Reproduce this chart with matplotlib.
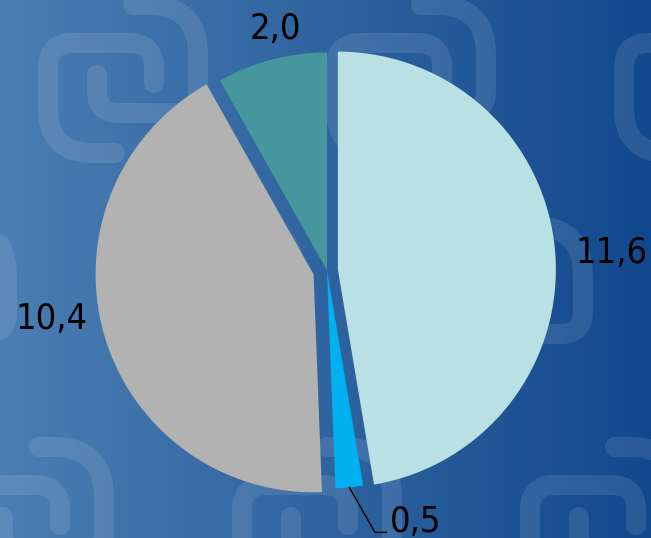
import numpy as np
import matplotlib
matplotlib.use("Agg")
import matplotlib.pyplot as plt

# =========================
# DATA
# =========================
values = [11.6, 0.5, 10.4, 2.0]
colors = ['#B9E0E3', '#00B0F0', '#B2B2B2', '#46979D']
explode = [0.050, 0.0, 0.064, 0.0]

# label placement (distance in radii from wedge centre, angle tweak in deg)
label_dist = [1.257, 1.177, 1.216, 1.149]
label_dang = [-0.7, 8.4, -6.7, -2.7]
label_ha = ['center', 'left', 'center', 'center']

# --- figure geometry (pixels) ---
W, H = 651, 538
CX, CY = 327, 270.5      # pie centre in image px
S = 218                  # radius in px

# =========================
# BACKGROUND
# =========================
fig = plt.figure(figsize=(W / 100, H / 100), dpi=100)
bg = fig.add_axes([0, 0, 1, 1])
left_c = np.array([75, 126, 178]) / 255
right_c = np.array([18, 73, 141]) / 255
t = np.linspace(0, 1, 400)
grad = left_c[None, :] * (1 - t[:, None]) + right_c[None, :] * t[:, None]
bg.imshow(grad[None, :, :], extent=(0, W, H, 0), aspect='auto', interpolation='bilinear')


def rounded(points, radii, n=14):
    pts = [np.array(p, float) for p in points]
    out = [pts[0]]
    for k in range(1, len(pts) - 1):
        p0, p1, p2 = pts[k - 1], pts[k], pts[k + 1]
        r = radii[k - 1]
        d1 = (p0 - p1) / np.linalg.norm(p0 - p1)
        d2 = (p2 - p1) / np.linalg.norm(p2 - p1)
        a, b = p1 + d1 * r, p1 + d2 * r
        tt = np.linspace(0, 1, n)[:, None]
        out.extend((1 - tt) ** 2 * a + 2 * (1 - tt) * tt * p1 + tt ** 2 * b)
    out.append(pts[-1])
    return np.array(out)


# spiral "@" motif, two strokes
stroke_a = rounded([(97, 75), (97, 113), (198, 113), (198, 5), (133, 5)], [22, 22, 50])
stroke_b = rounded([(154, 83), (154, 43), (48, 43), (48, 153), (115, 153)], [25, 25, 45])
for j in range(-1, 4):
    for i in range(-3, 4):
        dx = i * 288 + j * 97
        dy = j * 221
        for s in (stroke_a, stroke_b):
            bg.plot(s[:, 0] + dx, s[:, 1] + dy, color='white', alpha=0.10,
                    lw=14.4, solid_capstyle='round', solid_joinstyle='round')
bg.set_xlim(0, W)
bg.set_ylim(H, 0)
bg.axis('off')

# =========================
# PIE
# =========================
ax = fig.add_axes([0, 0, 1, 1])
ax.patch.set_alpha(0)
wedges, _ = ax.pie(values, colors=colors, explode=explode, startangle=90,
                   counterclock=False, radius=1, center=(0, 0),
                   wedgeprops=dict(linewidth=0))
ax.set_aspect('auto')
ax.set_xlim(-CX / S, (W - CX) / S)
ax.set_ylim(-(H - CY) / S, CY / S)
ax.axis('off')

half_digit = 13.25 / S
font = dict(family='DejaVu Sans', stretch='condensed', size=26, color='black')
for w, v, d, da, ha in zip(wedges, values, label_dist, label_dang, label_ha):
    tm = np.deg2rad((w.theta1 + w.theta2) / 2 + da)
    x = w.center[0] + d * np.cos(tm)
    y = w.center[1] + d * np.sin(tm)
    txt = f"{v:.1f}".replace('.', ',')
    ax.text(x, y - half_digit, txt, ha=ha, va='baseline', **font)
    if ha == 'left':
        # leader line from the wedge edge to the label
        tmid = np.deg2rad((w.theta1 + w.theta2) / 2)
        p0 = (w.center[0] + np.cos(tmid), w.center[1] + np.sin(tmid))
        p2 = (x - 4 / S, y - half_digit)
        p1 = (p2[0] - 11.3 / S, p2[1])
        ax.plot([p0[0], p1[0], p2[0]], [p0[1], p1[1], p2[1]], color='black', lw=1)

fig.savefig('out.png', dpi=100)
